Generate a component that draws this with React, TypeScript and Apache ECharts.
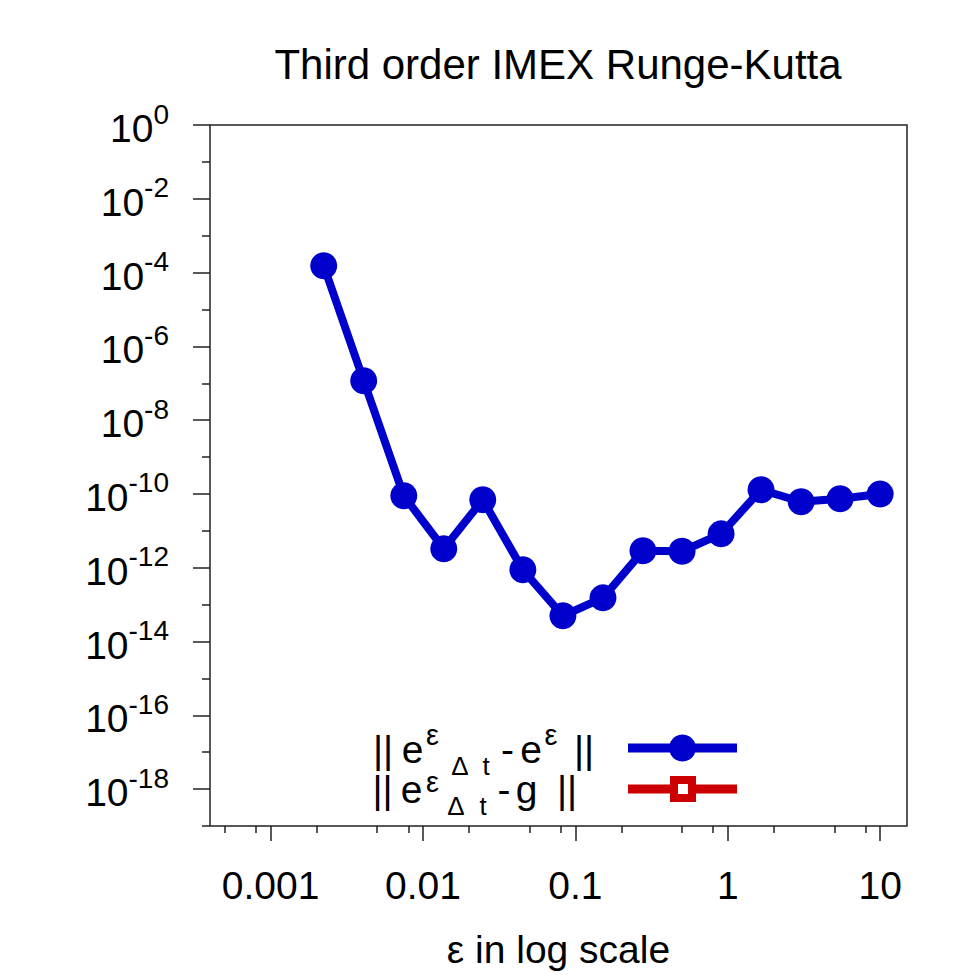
import React, { useEffect, useRef } from "react";
import * as echarts from "echarts";

// ---- data ----
const titleText = "Third order IMEX Runge-Kutta";
const xAxisTitle = "ε in log scale";
const seriesNames = ["|| eεΔt - eε ||", "|| eεΔt - g ||"];

const epsValues = [
  0.00223, 0.00408, 0.00748, 0.01368, 0.02466, 0.0452, 0.0828, 0.1517, 0.2775,
  0.501, 0.904, 1.653, 3.03, 5.46, 10,
];
const errValues = [
  1.53e-4, 1.17e-7, 8.9e-11, 3.27e-12, 6.97e-11, 8.8e-13, 4.99e-14, 1.53e-13,
  2.88e-12, 2.8e-12, 8.3e-12, 1.3e-10, 6.15e-11, 7.4e-11, 1.0e-10,
];
const gErrValues: number[] = [];

const xRange = [0.0004, 15];
const yRangeExp = [-19, 0];
const xTickValues = [0.001, 0.01, 0.1, 1, 10];
const xTickLabels = ["0.001", "0.01", "0.1", "1", "10"];
const xMinorTickValues = [
  0.0005, 0.0008, 0.002, 0.005, 0.008, 0.02, 0.05, 0.08, 0.2, 0.5, 0.8, 2, 5, 8,
];
const yTickExponents = [0, -2, -4, -6, -8, -10, -12, -14, -16, -18];
const yMinorTickExponents = [-1, -3, -5, -7, -9, -11, -13, -15, -17, -19];

const BLUE = "#0000cc";
const RED = "#cc0000";
const INK = "#222";
const FONT = "Liberation Sans";

const lg = (v: number) => Math.log10(v);

// legend text pieces: [text, role, centre x]
type Piece = [string, "b" | "sup" | "sub", number];
const legendPieces1: Piece[] = [
  ["||", "b", 383],
  ["e", "b", 412.5],
  ["ε", "sup", 432.5],
  ["Δ", "sub", 460],
  ["t", "sub", 486],
  ["-", "b", 507.5],
  ["e", "b", 531],
  ["ε", "sup", 551],
  ["||", "b", 584],
];
const legendPieces2: Piece[] = [
  ["||", "b", 382.5],
  ["e", "b", 411.5],
  ["ε", "sup", 432.5],
  ["Δ", "sub", 456],
  ["t", "sub", 483],
  ["-", "b", 504],
  ["g", "b", 526.5],
  ["||", "b", 567],
];

export default function App() {
  const ref = useRef<HTMLDivElement>(null);

  useEffect(() => {
    if (!ref.current) return;
    const chart = echarts.init(ref.current, undefined, { renderer: "svg" });

    const hiddenLine = { show: false, onZero: false };

    // baseline -> y offsets for the em-box centre of each role
    const legendText = (pieces: Piece[], baseline: number, supRaise: number) =>
      pieces.map(([t, role, cx]) => {
        const fontSize = role === "b" ? 39 : role === "sup" ? 29 : 26;
        const y =
          role === "b" ? baseline - 13.5 : role === "sup" ? baseline - supRaise : baseline + 3;
        return {
          type: "text",
          x: cx,
          y,
          z: 10,
          style: {
            text: t,
            fontSize,
            fontFamily: FONT,
            fill: "#000",
            align: "center",
            verticalAlign: "middle",
          },
        };
      });

    const option: any = {
      animation: false,
      textStyle: { fontFamily: FONT },
      title: {
        text: titleText,
        left: 558,
        top: 43,
        padding: 0,
        textAlign: "center",
        textStyle: { fontSize: 42, fontWeight: "normal", color: "#000", fontFamily: FONT },
      },
      grid: {
        left: 210,
        top: 125,
        width: 697,
        height: 701,
        show: true,
        borderColor: INK,
        borderWidth: 1.5,
        backgroundColor: "transparent",
      },
      xAxis: [
        {
          type: "value",
          min: lg(xRange[0]),
          max: lg(xRange[1]),
          position: "bottom",
          axisLine: hiddenLine,
          splitLine: { show: false },
          axisTick: {
            customValues: xTickValues.map(lg),
            length: 15,
            lineStyle: { color: INK, width: 1.5 },
          },
          axisLabel: {
            customValues: xTickValues.map(lg),
            margin: 40,
            fontSize: 39,
            color: "#000",
            fontFamily: FONT,
            formatter: (v: number) => {
              const i = xTickValues.findIndex((t) => Math.abs(lg(t) - v) < 1e-6);
              return i >= 0 ? xTickLabels[i] : "";
            },
          },
          name: xAxisTitle,
          nameLocation: "middle",
          nameGap: 104,
          nameTextStyle: { fontSize: 39, color: "#000", fontFamily: FONT },
        },
        {
          type: "value",
          min: lg(xRange[0]),
          max: lg(xRange[1]),
          position: "bottom",
          axisLine: hiddenLine,
          splitLine: { show: false },
          axisLabel: { show: false },
          axisTick: {
            customValues: xMinorTickValues.map(lg),
            length: 7,
            lineStyle: { color: INK, width: 1.5 },
          },
        },
      ],
      yAxis: [
        {
          type: "value",
          min: yRangeExp[0],
          max: yRangeExp[1],
          position: "left",
          axisLine: hiddenLine,
          splitLine: { show: false },
          axisTick: {
            customValues: yTickExponents,
            length: 17,
            lineStyle: { color: INK, width: 1.5 },
          },
          axisLabel: {
            customValues: yTickExponents,
            margin: 41,
            padding: [7, 0, 0, 0],
            formatter: (v: number) => `{b|10}{s|${Math.round(v)}}`,
            rich: {
              b: { fontSize: 39, lineHeight: 57, color: "#000", fontFamily: FONT },
              s: { fontSize: 28, lineHeight: 29, verticalAlign: "top", color: "#000", fontFamily: FONT },
            },
          },
        },
        {
          type: "value",
          min: yRangeExp[0],
          max: yRangeExp[1],
          position: "left",
          axisLine: hiddenLine,
          splitLine: { show: false },
          axisLabel: { show: false },
          axisTick: {
            customValues: yMinorTickExponents,
            length: 8,
            lineStyle: { color: INK, width: 1.5 },
          },
        },
      ],
      series: [
        {
          name: seriesNames[0],
          type: "line",
          xAxisIndex: 0,
          yAxisIndex: 0,
          data: epsValues.map((e, i) => [lg(e), lg(errValues[i])]),
          symbol: "circle",
          symbolSize: 27,
          lineStyle: { color: BLUE, width: 8 },
          itemStyle: { color: BLUE },
          z: 3,
        },
        {
          name: seriesNames[1],
          type: "line",
          xAxisIndex: 0,
          yAxisIndex: 0,
          data: gErrValues.map((g, i) => [lg(epsValues[i]), lg(g)]),
          symbol: "emptySquare",
          symbolSize: 26,
          lineStyle: { color: RED, width: 8 },
          itemStyle: { color: RED },
        },
      ],
      graphic: [
        ...legendText(legendPieces1, 763, 28),
        {
          type: "line",
          shape: { x1: 628, y1: 748, x2: 737, y2: 748 },
          style: { stroke: BLUE, lineWidth: 9 },
          z: 10,
        },
        {
          type: "circle",
          shape: { cx: 682.5, cy: 748, r: 13.5 },
          style: { fill: BLUE },
          z: 11,
        },
        ...legendText(legendPieces2, 803, 21.5),
        {
          type: "line",
          shape: { x1: 628, y1: 789, x2: 737, y2: 789 },
          style: { stroke: RED, lineWidth: 9 },
          z: 10,
        },
        {
          type: "rect",
          shape: { x: 674, y: 780, width: 18, height: 18 },
          style: { fill: "#fff", stroke: RED, lineWidth: 8 },
          z: 11,
        },
      ],
    };

    chart.setOption(option);
    return () => chart.dispose();
  }, []);

  return (
    <div
      ref={ref}
      style={{ position: "absolute", left: 0, top: 0, width: 975, height: 975, background: "#fff" }}
    />
  );
}
